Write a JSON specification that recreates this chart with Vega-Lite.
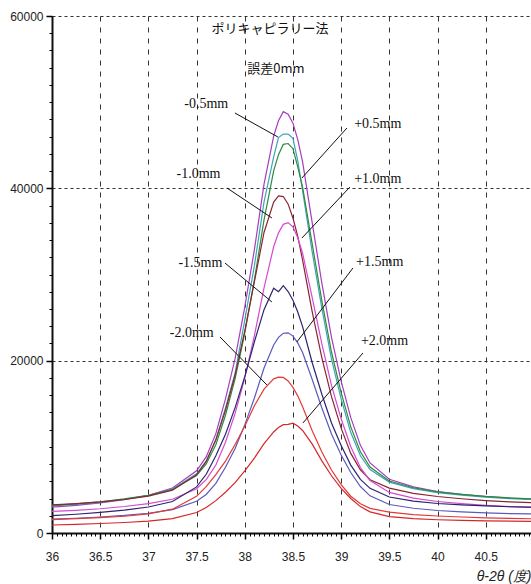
{
"$schema": "https://vega.github.io/schema/vega-lite/v6.json",
"width": 479,
"height": 517,
"autosize": {"type": "none"},
"padding": {"left": 52, "top": 16, "right": 0, "bottom": 51},
"background": "white",
"config": {"view": {"stroke": null}, "font": "Liberation Sans", "axis": {"ticks": true, "tickOpacity": 1}},
"resolve": {"axis": {"x": "independent", "y": "independent"}},
"datasets": {
"curves": [
{"s":"0mm","x":36,"y":3001},{"s":"0mm","x":36.25,"y":3215},{"s":"0mm","x":36.5,"y":3495},{"s":"0mm","x":36.75,"y":3870},{"s":"0mm","x":37,"y":4366},{"s":"0mm","x":37.25,"y":5220},{"s":"0mm","x":37.5,"y":7215},{"s":"0mm","x":37.6,"y":8836},{"s":"0mm","x":37.7,"y":11530},{"s":"0mm","x":37.8,"y":15575},{"s":"0mm","x":37.9,"y":20265},{"s":"0mm","x":38,"y":26215},{"s":"0mm","x":38.1,"y":32887},{"s":"0mm","x":38.2,"y":40479},{"s":"0mm","x":38.3,"y":46061},{"s":"0mm","x":38.35,"y":47845},{"s":"0mm","x":38.4,"y":48900},{"s":"0mm","x":38.45,"y":48615},{"s":"0mm","x":38.5,"y":47565},{"s":"0mm","x":38.55,"y":45655},{"s":"0mm","x":38.6,"y":43064},{"s":"0mm","x":38.7,"y":35982},{"s":"0mm","x":38.8,"y":28997},{"s":"0mm","x":38.9,"y":22697},{"s":"0mm","x":39,"y":17635},{"s":"0mm","x":39.1,"y":13382},{"s":"0mm","x":39.2,"y":10169},{"s":"0mm","x":39.3,"y":8129},{"s":"0mm","x":39.5,"y":6233},{"s":"0mm","x":39.75,"y":5349},{"s":"0mm","x":40,"y":4814},{"s":"0mm","x":40.25,"y":4490},{"s":"0mm","x":40.5,"y":4231},{"s":"0mm","x":40.75,"y":4037},{"s":"0mm","x":41,"y":3906},
{"s":"-0.5mm","x":36,"y":3137},{"s":"-0.5mm","x":36.25,"y":3316},{"s":"-0.5mm","x":36.5,"y":3564},{"s":"-0.5mm","x":36.75,"y":3915},{"s":"-0.5mm","x":37,"y":4352},{"s":"-0.5mm","x":37.25,"y":5107},{"s":"-0.5mm","x":37.5,"y":6865},{"s":"-0.5mm","x":37.6,"y":8340},{"s":"-0.5mm","x":37.7,"y":10825},{"s":"-0.5mm","x":37.8,"y":14515},{"s":"-0.5mm","x":37.9,"y":18591},{"s":"-0.5mm","x":38,"y":24710},{"s":"-0.5mm","x":38.1,"y":31027},{"s":"-0.5mm","x":38.2,"y":38420},{"s":"-0.5mm","x":38.3,"y":43661},{"s":"-0.5mm","x":38.35,"y":45900},{"s":"-0.5mm","x":38.4,"y":46300},{"s":"-0.5mm","x":38.45,"y":46300},{"s":"-0.5mm","x":38.5,"y":45800},{"s":"-0.5mm","x":38.55,"y":43200},{"s":"-0.5mm","x":38.6,"y":39744},{"s":"-0.5mm","x":38.7,"y":32602},{"s":"-0.5mm","x":38.8,"y":26062},{"s":"-0.5mm","x":38.9,"y":20188},{"s":"-0.5mm","x":39,"y":15575},{"s":"-0.5mm","x":39.1,"y":11653},{"s":"-0.5mm","x":39.2,"y":8957},{"s":"-0.5mm","x":39.3,"y":7358},{"s":"-0.5mm","x":39.5,"y":5909},{"s":"-0.5mm","x":39.75,"y":5155},{"s":"-0.5mm","x":40,"y":4693},{"s":"-0.5mm","x":40.25,"y":4399},{"s":"-0.5mm","x":40.5,"y":4166},{"s":"-0.5mm","x":40.75,"y":3996},{"s":"-0.5mm","x":41,"y":3870},
{"s":"+0.5mm","x":36,"y":3203},{"s":"+0.5mm","x":36.25,"y":3374},{"s":"+0.5mm","x":36.5,"y":3618},{"s":"+0.5mm","x":36.75,"y":3953},{"s":"+0.5mm","x":37,"y":4373},{"s":"+0.5mm","x":37.25,"y":5053},{"s":"+0.5mm","x":37.5,"y":6657},{"s":"+0.5mm","x":37.6,"y":8017},{"s":"+0.5mm","x":37.7,"y":10240},{"s":"+0.5mm","x":37.8,"y":13663},{"s":"+0.5mm","x":37.9,"y":17907},{"s":"+0.5mm","x":38,"y":23162},{"s":"+0.5mm","x":38.1,"y":29364},{"s":"+0.5mm","x":38.2,"y":36348},{"s":"+0.5mm","x":38.3,"y":42036},{"s":"+0.5mm","x":38.35,"y":43903},{"s":"+0.5mm","x":38.4,"y":45100},{"s":"+0.5mm","x":38.45,"y":45200},{"s":"+0.5mm","x":38.5,"y":44600},{"s":"+0.5mm","x":38.55,"y":42497},{"s":"+0.5mm","x":38.6,"y":40139},{"s":"+0.5mm","x":38.7,"y":33534},{"s":"+0.5mm","x":38.8,"y":26929},{"s":"+0.5mm","x":38.9,"y":21005},{"s":"+0.5mm","x":39,"y":16282},{"s":"+0.5mm","x":39.1,"y":12317},{"s":"+0.5mm","x":39.2,"y":9424},{"s":"+0.5mm","x":39.3,"y":7648},{"s":"+0.5mm","x":39.5,"y":6036},{"s":"+0.5mm","x":39.75,"y":5252},{"s":"+0.5mm","x":40,"y":4779},{"s":"+0.5mm","x":40.25,"y":4484},{"s":"+0.5mm","x":40.5,"y":4246},{"s":"+0.5mm","x":40.75,"y":4077},{"s":"+0.5mm","x":41,"y":3953},
{"s":"-1.0mm","x":36,"y":3254},{"s":"-1.0mm","x":36.25,"y":3399},{"s":"-1.0mm","x":36.5,"y":3602},{"s":"-1.0mm","x":36.75,"y":3886},{"s":"-1.0mm","x":37,"y":4274},{"s":"-1.0mm","x":37.25,"y":4975},{"s":"-1.0mm","x":37.5,"y":6754},{"s":"-1.0mm","x":37.6,"y":8301},{"s":"-1.0mm","x":37.7,"y":10810},{"s":"-1.0mm","x":37.8,"y":14244},{"s":"-1.0mm","x":37.9,"y":18333},{"s":"-1.0mm","x":38,"y":23456},{"s":"-1.0mm","x":38.1,"y":29167},{"s":"-1.0mm","x":38.2,"y":34877},{"s":"-1.0mm","x":38.3,"y":38403},{"s":"-1.0mm","x":38.35,"y":39117},{"s":"-1.0mm","x":38.4,"y":39046},{"s":"-1.0mm","x":38.45,"y":38162},{"s":"-1.0mm","x":38.5,"y":36560},{"s":"-1.0mm","x":38.55,"y":34429},{"s":"-1.0mm","x":38.6,"y":31672},{"s":"-1.0mm","x":38.7,"y":25665},{"s":"-1.0mm","x":38.8,"y":20333},{"s":"-1.0mm","x":38.9,"y":15818},{"s":"-1.0mm","x":39,"y":12175},{"s":"-1.0mm","x":39.1,"y":9239},{"s":"-1.0mm","x":39.2,"y":7338},{"s":"-1.0mm","x":39.3,"y":6180},{"s":"-1.0mm","x":39.5,"y":5213},{"s":"-1.0mm","x":39.75,"y":4596},{"s":"-1.0mm","x":40,"y":4237},{"s":"-1.0mm","x":40.25,"y":3975},{"s":"-1.0mm","x":40.5,"y":3768},{"s":"-1.0mm","x":40.75,"y":3623},{"s":"-1.0mm","x":41,"y":3504},
{"s":"+1.0mm","x":36,"y":2503},{"s":"+1.0mm","x":36.25,"y":2629},{"s":"+1.0mm","x":36.5,"y":2815},{"s":"+1.0mm","x":36.75,"y":3073},{"s":"+1.0mm","x":37,"y":3399},{"s":"+1.0mm","x":37.25,"y":3913},{"s":"+1.0mm","x":37.5,"y":5143},{"s":"+1.0mm","x":37.6,"y":6196},{"s":"+1.0mm","x":37.7,"y":7891},{"s":"+1.0mm","x":37.8,"y":10531},{"s":"+1.0mm","x":37.9,"y":13879},{"s":"+1.0mm","x":38,"y":17970},{"s":"+1.0mm","x":38.1,"y":22906},{"s":"+1.0mm","x":38.2,"y":28441},{"s":"+1.0mm","x":38.3,"y":33220},{"s":"+1.0mm","x":38.35,"y":34831},{"s":"+1.0mm","x":38.4,"y":35819},{"s":"+1.0mm","x":38.45,"y":36026},{"s":"+1.0mm","x":38.5,"y":35529},{"s":"+1.0mm","x":38.55,"y":34271},{"s":"+1.0mm","x":38.6,"y":32466},{"s":"+1.0mm","x":38.7,"y":27323},{"s":"+1.0mm","x":38.8,"y":21943},{"s":"+1.0mm","x":38.9,"y":17124},{"s":"+1.0mm","x":39,"y":13251},{"s":"+1.0mm","x":39.1,"y":10018},{"s":"+1.0mm","x":39.2,"y":7595},{"s":"+1.0mm","x":39.3,"y":6083},{"s":"+1.0mm","x":39.5,"y":4707},{"s":"+1.0mm","x":39.75,"y":4054},{"s":"+1.0mm","x":40,"y":3657},{"s":"+1.0mm","x":40.25,"y":3408},{"s":"+1.0mm","x":40.5,"y":3210},{"s":"+1.0mm","x":40.75,"y":3064},{"s":"+1.0mm","x":41,"y":2953},
{"s":"-1.5mm","x":36,"y":2007},{"s":"-1.5mm","x":36.25,"y":2178},{"s":"-1.5mm","x":36.5,"y":2396},{"s":"-1.5mm","x":36.75,"y":2654},{"s":"-1.5mm","x":37,"y":3019},{"s":"-1.5mm","x":37.25,"y":3652},{"s":"-1.5mm","x":37.5,"y":5348},{"s":"-1.5mm","x":37.6,"y":6813},{"s":"-1.5mm","x":37.7,"y":8954},{"s":"-1.5mm","x":37.8,"y":11463},{"s":"-1.5mm","x":37.9,"y":14552},{"s":"-1.5mm","x":38,"y":18148},{"s":"-1.5mm","x":38.1,"y":22197},{"s":"-1.5mm","x":38.2,"y":25915},{"s":"-1.5mm","x":38.3,"y":28400},{"s":"-1.5mm","x":38.35,"y":28000},{"s":"-1.5mm","x":38.4,"y":28700},{"s":"-1.5mm","x":38.45,"y":28028},{"s":"-1.5mm","x":38.5,"y":27025},{"s":"-1.5mm","x":38.55,"y":25641},{"s":"-1.5mm","x":38.6,"y":23948},{"s":"-1.5mm","x":38.7,"y":19759},{"s":"-1.5mm","x":38.8,"y":16107},{"s":"-1.5mm","x":38.9,"y":12767},{"s":"-1.5mm","x":39,"y":10158},{"s":"-1.5mm","x":39.1,"y":7882},{"s":"-1.5mm","x":39.2,"y":6225},{"s":"-1.5mm","x":39.3,"y":5182},{"s":"-1.5mm","x":39.5,"y":4179},{"s":"-1.5mm","x":39.75,"y":3705},{"s":"-1.5mm","x":40,"y":3426},{"s":"-1.5mm","x":40.25,"y":3266},{"s":"-1.5mm","x":40.5,"y":3141},{"s":"-1.5mm","x":40.75,"y":3048},{"s":"-1.5mm","x":41,"y":3003},
{"s":"+1.5mm","x":36,"y":1603},{"s":"+1.5mm","x":36.25,"y":1714},{"s":"+1.5mm","x":36.5,"y":1859},{"s":"+1.5mm","x":36.75,"y":2040},{"s":"+1.5mm","x":37,"y":2290},{"s":"+1.5mm","x":37.25,"y":2711},{"s":"+1.5mm","x":37.5,"y":3682},{"s":"+1.5mm","x":37.6,"y":4475},{"s":"+1.5mm","x":37.7,"y":5756},{"s":"+1.5mm","x":37.8,"y":7622},{"s":"+1.5mm","x":37.9,"y":9799},{"s":"+1.5mm","x":38,"y":12548},{"s":"+1.5mm","x":38.1,"y":15662},{"s":"+1.5mm","x":38.2,"y":19146},{"s":"+1.5mm","x":38.3,"y":21814},{"s":"+1.5mm","x":38.35,"y":22705},{"s":"+1.5mm","x":38.4,"y":23185},{"s":"+1.5mm","x":38.45,"y":23235},{"s":"+1.5mm","x":38.5,"y":22853},{"s":"+1.5mm","x":38.55,"y":22063},{"s":"+1.5mm","x":38.6,"y":20937},{"s":"+1.5mm","x":38.7,"y":17806},{"s":"+1.5mm","x":38.8,"y":14501},{"s":"+1.5mm","x":38.9,"y":11491},{"s":"+1.5mm","x":39,"y":9052},{"s":"+1.5mm","x":39.1,"y":7021},{"s":"+1.5mm","x":39.2,"y":5391},{"s":"+1.5mm","x":39.3,"y":4311},{"s":"+1.5mm","x":39.5,"y":3308},{"s":"+1.5mm","x":39.75,"y":2871},{"s":"+1.5mm","x":40,"y":2613},{"s":"+1.5mm","x":40.25,"y":2463},{"s":"+1.5mm","x":40.5,"y":2345},{"s":"+1.5mm","x":40.75,"y":2254},{"s":"+1.5mm","x":41,"y":2203},
{"s":"-2.0mm","x":36,"y":1555},{"s":"-2.0mm","x":36.25,"y":1657},{"s":"-2.0mm","x":36.5,"y":1779},{"s":"-2.0mm","x":36.75,"y":1945},{"s":"-2.0mm","x":37,"y":2213},{"s":"-2.0mm","x":37.25,"y":2767},{"s":"-2.0mm","x":37.5,"y":4259},{"s":"-2.0mm","x":37.6,"y":5391},{"s":"-2.0mm","x":37.7,"y":6771},{"s":"-2.0mm","x":37.8,"y":8344},{"s":"-2.0mm","x":37.9,"y":10272},{"s":"-2.0mm","x":38,"y":12392},{"s":"-2.0mm","x":38.1,"y":14765},{"s":"-2.0mm","x":38.2,"y":16687},{"s":"-2.0mm","x":38.3,"y":17890},{"s":"-2.0mm","x":38.35,"y":18094},{"s":"-2.0mm","x":38.4,"y":18052},{"s":"-2.0mm","x":38.45,"y":17644},{"s":"-2.0mm","x":38.5,"y":16904},{"s":"-2.0mm","x":38.55,"y":15918},{"s":"-2.0mm","x":38.6,"y":14643},{"s":"-2.0mm","x":38.7,"y":11865},{"s":"-2.0mm","x":38.8,"y":9399},{"s":"-2.0mm","x":38.9,"y":7311},{"s":"-2.0mm","x":39,"y":5626},{"s":"-2.0mm","x":39.1,"y":4270},{"s":"-2.0mm","x":39.2,"y":3392},{"s":"-2.0mm","x":39.3,"y":2858},{"s":"-2.0mm","x":39.5,"y":2413},{"s":"-2.0mm","x":39.75,"y":2132},{"s":"-2.0mm","x":40,"y":1971},{"s":"-2.0mm","x":40.25,"y":1854},{"s":"-2.0mm","x":40.5,"y":1763},{"s":"-2.0mm","x":40.75,"y":1700},{"s":"-2.0mm","x":41,"y":1650},
{"s":"+2.0mm","x":36,"y":928},{"s":"+2.0mm","x":36.25,"y":1007},{"s":"+2.0mm","x":36.5,"y":1102},{"s":"+2.0mm","x":36.75,"y":1219},{"s":"+2.0mm","x":37,"y":1381},{"s":"+2.0mm","x":37.25,"y":1659},{"s":"+2.0mm","x":37.5,"y":2379},{"s":"+2.0mm","x":37.6,"y":2952},{"s":"+2.0mm","x":37.7,"y":3754},{"s":"+2.0mm","x":37.8,"y":4729},{"s":"+2.0mm","x":37.9,"y":5841},{"s":"+2.0mm","x":38,"y":7201},{"s":"+2.0mm","x":38.1,"y":8696},{"s":"+2.0mm","x":38.2,"y":10369},{"s":"+2.0mm","x":38.3,"y":11726},{"s":"+2.0mm","x":38.35,"y":12236},{"s":"+2.0mm","x":38.4,"y":12577},{"s":"+2.0mm","x":38.45,"y":12600},{"s":"+2.0mm","x":38.5,"y":12750},{"s":"+2.0mm","x":38.55,"y":12414},{"s":"+2.0mm","x":38.6,"y":11897},{"s":"+2.0mm","x":38.7,"y":10315},{"s":"+2.0mm","x":38.8,"y":8370},{"s":"+2.0mm","x":38.9,"y":6644},{"s":"+2.0mm","x":39,"y":5184},{"s":"+2.0mm","x":39.1,"y":4007},{"s":"+2.0mm","x":39.2,"y":3061},{"s":"+2.0mm","x":39.3,"y":2450},{"s":"+2.0mm","x":39.5,"y":1902},{"s":"+2.0mm","x":39.75,"y":1668},{"s":"+2.0mm","x":40,"y":1537},{"s":"+2.0mm","x":40.25,"y":1463},{"s":"+2.0mm","x":40.5,"y":1406},{"s":"+2.0mm","x":40.75,"y":1369},{"s":"+2.0mm","x":41,"y":1349}
],
"labels": [
{"t":"-0.5mm","x":37.6,"y":49790},{"t":"+0.5mm","x":39.38,"y":47460},{"t":"-1.0mm","x":37.52,"y":41660},{"t":"+1.0mm","x":39.38,"y":41080},{"t":"-1.5mm","x":37.54,"y":31330},{"t":"+1.5mm","x":39.4,"y":31450},{"t":"-2.0mm","x":37.45,"y":23210},{"t":"+2.0mm","x":39.45,"y":22280}
],
"leaders": [
{"x1":37.898,"y1":48740,"x2":38.344,"y2":45960},{"x1":39.06,"y1":47000,"x2":38.593,"y2":41200},{"x1":37.815,"y1":40040,"x2":38.282,"y2":36560},{"x1":39.091,"y1":40150,"x2":38.593,"y2":34230},{"x1":37.795,"y1":31330,"x2":38.282,"y2":26810},{"x1":39.122,"y1":30750,"x2":38.541,"y2":22170},{"x1":37.743,"y1":22750,"x2":38.23,"y2":17180},{"x1":39.226,"y1":20890,"x2":38.604,"y2":12770}
],
"notes": [
{"t":"ポリキャピラリー法","x":38.262,"y":58490},{"t":"誤差0mm","x":38.324,"y":53850}
]
},
"layer": [
{
"data": {"name": "curves"},
"mark": {"type": "line", "strokeWidth": 1.2, "clip": true},
"encoding": {
"x": {"field": "x", "type": "quantitative", "scale": {"domain": [36, 40.97], "nice": false, "zero": false},
"axis": {"orient": "bottom", "values": [36, 36.5, 37, 37.5, 38, 38.5, 39, 39.5, 40, 40.5], "format": "~g", "labelOverlap": false, "labelFlush": false, "labelFont": "Liberation Sans", "labelFontSize": 12, "labelColor": "#222", "labelPadding": 12,
"ticks": true, "tickSize": 6, "tickColor": "#000", "tickWidth": 1.5, "tickOpacity": 1,
"grid": true, "gridDash": [5, 6], "gridColor": "#333", "gridWidth": 1,
"domainColor": "#111", "domainWidth": 2,
"title": "θ-2θ (度)", "titleFont": "Liberation Sans", "titleFontStyle": "italic", "titleFontWeight": "normal", "titleFontSize": 14, "titleColor": "#222", "titleAlign": "right", "titleAnchor": "end", "titleBaseline": "middle", "titleX": 479, "titleY": 43}},
"y": {"field": "y", "type": "quantitative", "scale": {"domain": [0, 60000], "nice": false},
"axis": {"orient": "left", "values": [0, 20000, 40000, 60000], "format": "d", "labelOverlap": false, "labelFlush": false, "labelFont": "Liberation Sans", "labelFontSize": 12, "labelColor": "#222", "labelPadding": 3,
"ticks": true, "tickSize": 6, "tickColor": "#000", "tickWidth": 1.5, "tickOpacity": 1,
"grid": true, "gridDash": [3, 3], "gridColor": "#333", "gridWidth": 1,
"domainColor": "#111", "domainWidth": 2, "title": null}},
"color": {"field": "s", "type": "nominal", "legend": null,
"scale": {"domain": ["+2.0mm", "-2.0mm", "+1.5mm", "-1.5mm", "+1.0mm", "-1.0mm", "+0.5mm", "-0.5mm", "0mm"],
"range": ["#d42828", "#e23a3a", "#5a5ac0", "#2c2470", "#d44ad0", "#8c2434", "#2e8a40", "#3aa6b4", "#a83cc0"]}}
}
},
{
"mark": {"type": "rule", "color": "#111", "strokeWidth": 2.5},
"encoding": {"y": {"datum": 60000, "axis": null}}
},
{
"data": {"name": "leaders"},
"mark": {"type": "rule", "color": "#111", "strokeWidth": 1},
"encoding": {
"x": {"field": "x1", "type": "quantitative", "axis": {"orient": "bottom", "tickCount": 100, "labels": false, "domain": false, "grid": false, "ticks": true, "tickSize": 3, "tickColor": "#000", "tickWidth": 1, "tickOpacity": 1, "title": null}},
"y": {"field": "y1", "type": "quantitative", "axis": {"orient": "left", "tickCount": 30, "labels": false, "domain": false, "grid": false, "ticks": true, "tickSize": 3, "tickColor": "#000", "tickWidth": 1, "tickOpacity": 1, "title": null}},
"x2": {"field": "x2"},
"y2": {"field": "y2"}
}
},
{
"data": {"name": "labels"},
"mark": {"type": "text", "font": "Liberation Serif", "fontSize": 14, "color": "#111", "align": "center", "baseline": "middle"},
"encoding": {
"x": {"field": "x", "type": "quantitative", "axis": null},
"y": {"field": "y", "type": "quantitative", "axis": null},
"text": {"field": "t"}
}
},
{
"data": {"name": "notes"},
"mark": {"type": "text", "font": "Noto Sans CJK JP", "fontSize": 13, "color": "#111", "align": "center", "baseline": "middle"},
"encoding": {
"x": {"field": "x", "type": "quantitative", "axis": null},
"y": {"field": "y", "type": "quantitative", "axis": null},
"text": {"field": "t"}
}
}
]
}
